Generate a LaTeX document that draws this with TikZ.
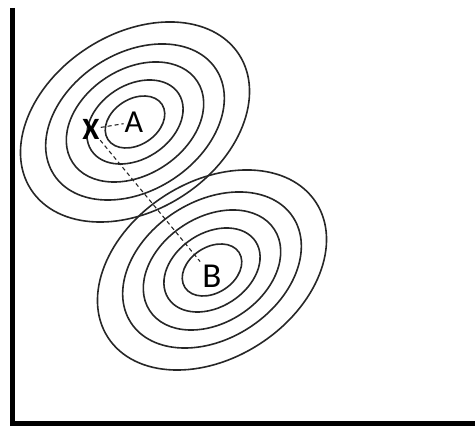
\documentclass[tikz,border=0pt]{standalone}
\usepackage{fontspec}
\setmainfont{Carlito}
\begin{document}
\begin{tikzpicture}[x=1pt,y=1pt,
  contour/.style={draw=black!85, line width=1.6pt},
  axisline/.style={line width=4.5pt, black, line join=miter},
  guide/.style={dash pattern=on 4pt off 3pt, line width=1.1pt, black!85},
  lbl/.style={inner sep=1pt, font=\fontsize{32}{32}\selectfont}]
\useasboundingbox (0,0) rectangle (475,427);
% axes
\draw[axisline] (12.5,419) -- (12.5,3.5) -- (475,3.5);
% contour ellipses
\foreach \s in {1,0.78,0.6,0.42,0.26} {
  \draw[contour, rotate around={33:(135,305)}] (135,305) ellipse [x radius=124*\s, y radius=88*\s];
  \draw[contour, rotate around={33:(212,157)}] (212,157) ellipse [x radius=124*\s, y radius=88*\s];
}
% labels
\node[lbl] (A) at (134,305) {A};
\node[lbl, font=\fontsize{31}{31}\selectfont\bfseries] (X) at (91,298) {X};
\node[lbl, inner sep=3pt, font=\fontsize{35}{35}\selectfont] (B) at (212,151) {B};
% dashed guides
\draw[guide] (X) -- (A);
\draw[guide] (X) -- (B);
\end{tikzpicture}
\end{document}
